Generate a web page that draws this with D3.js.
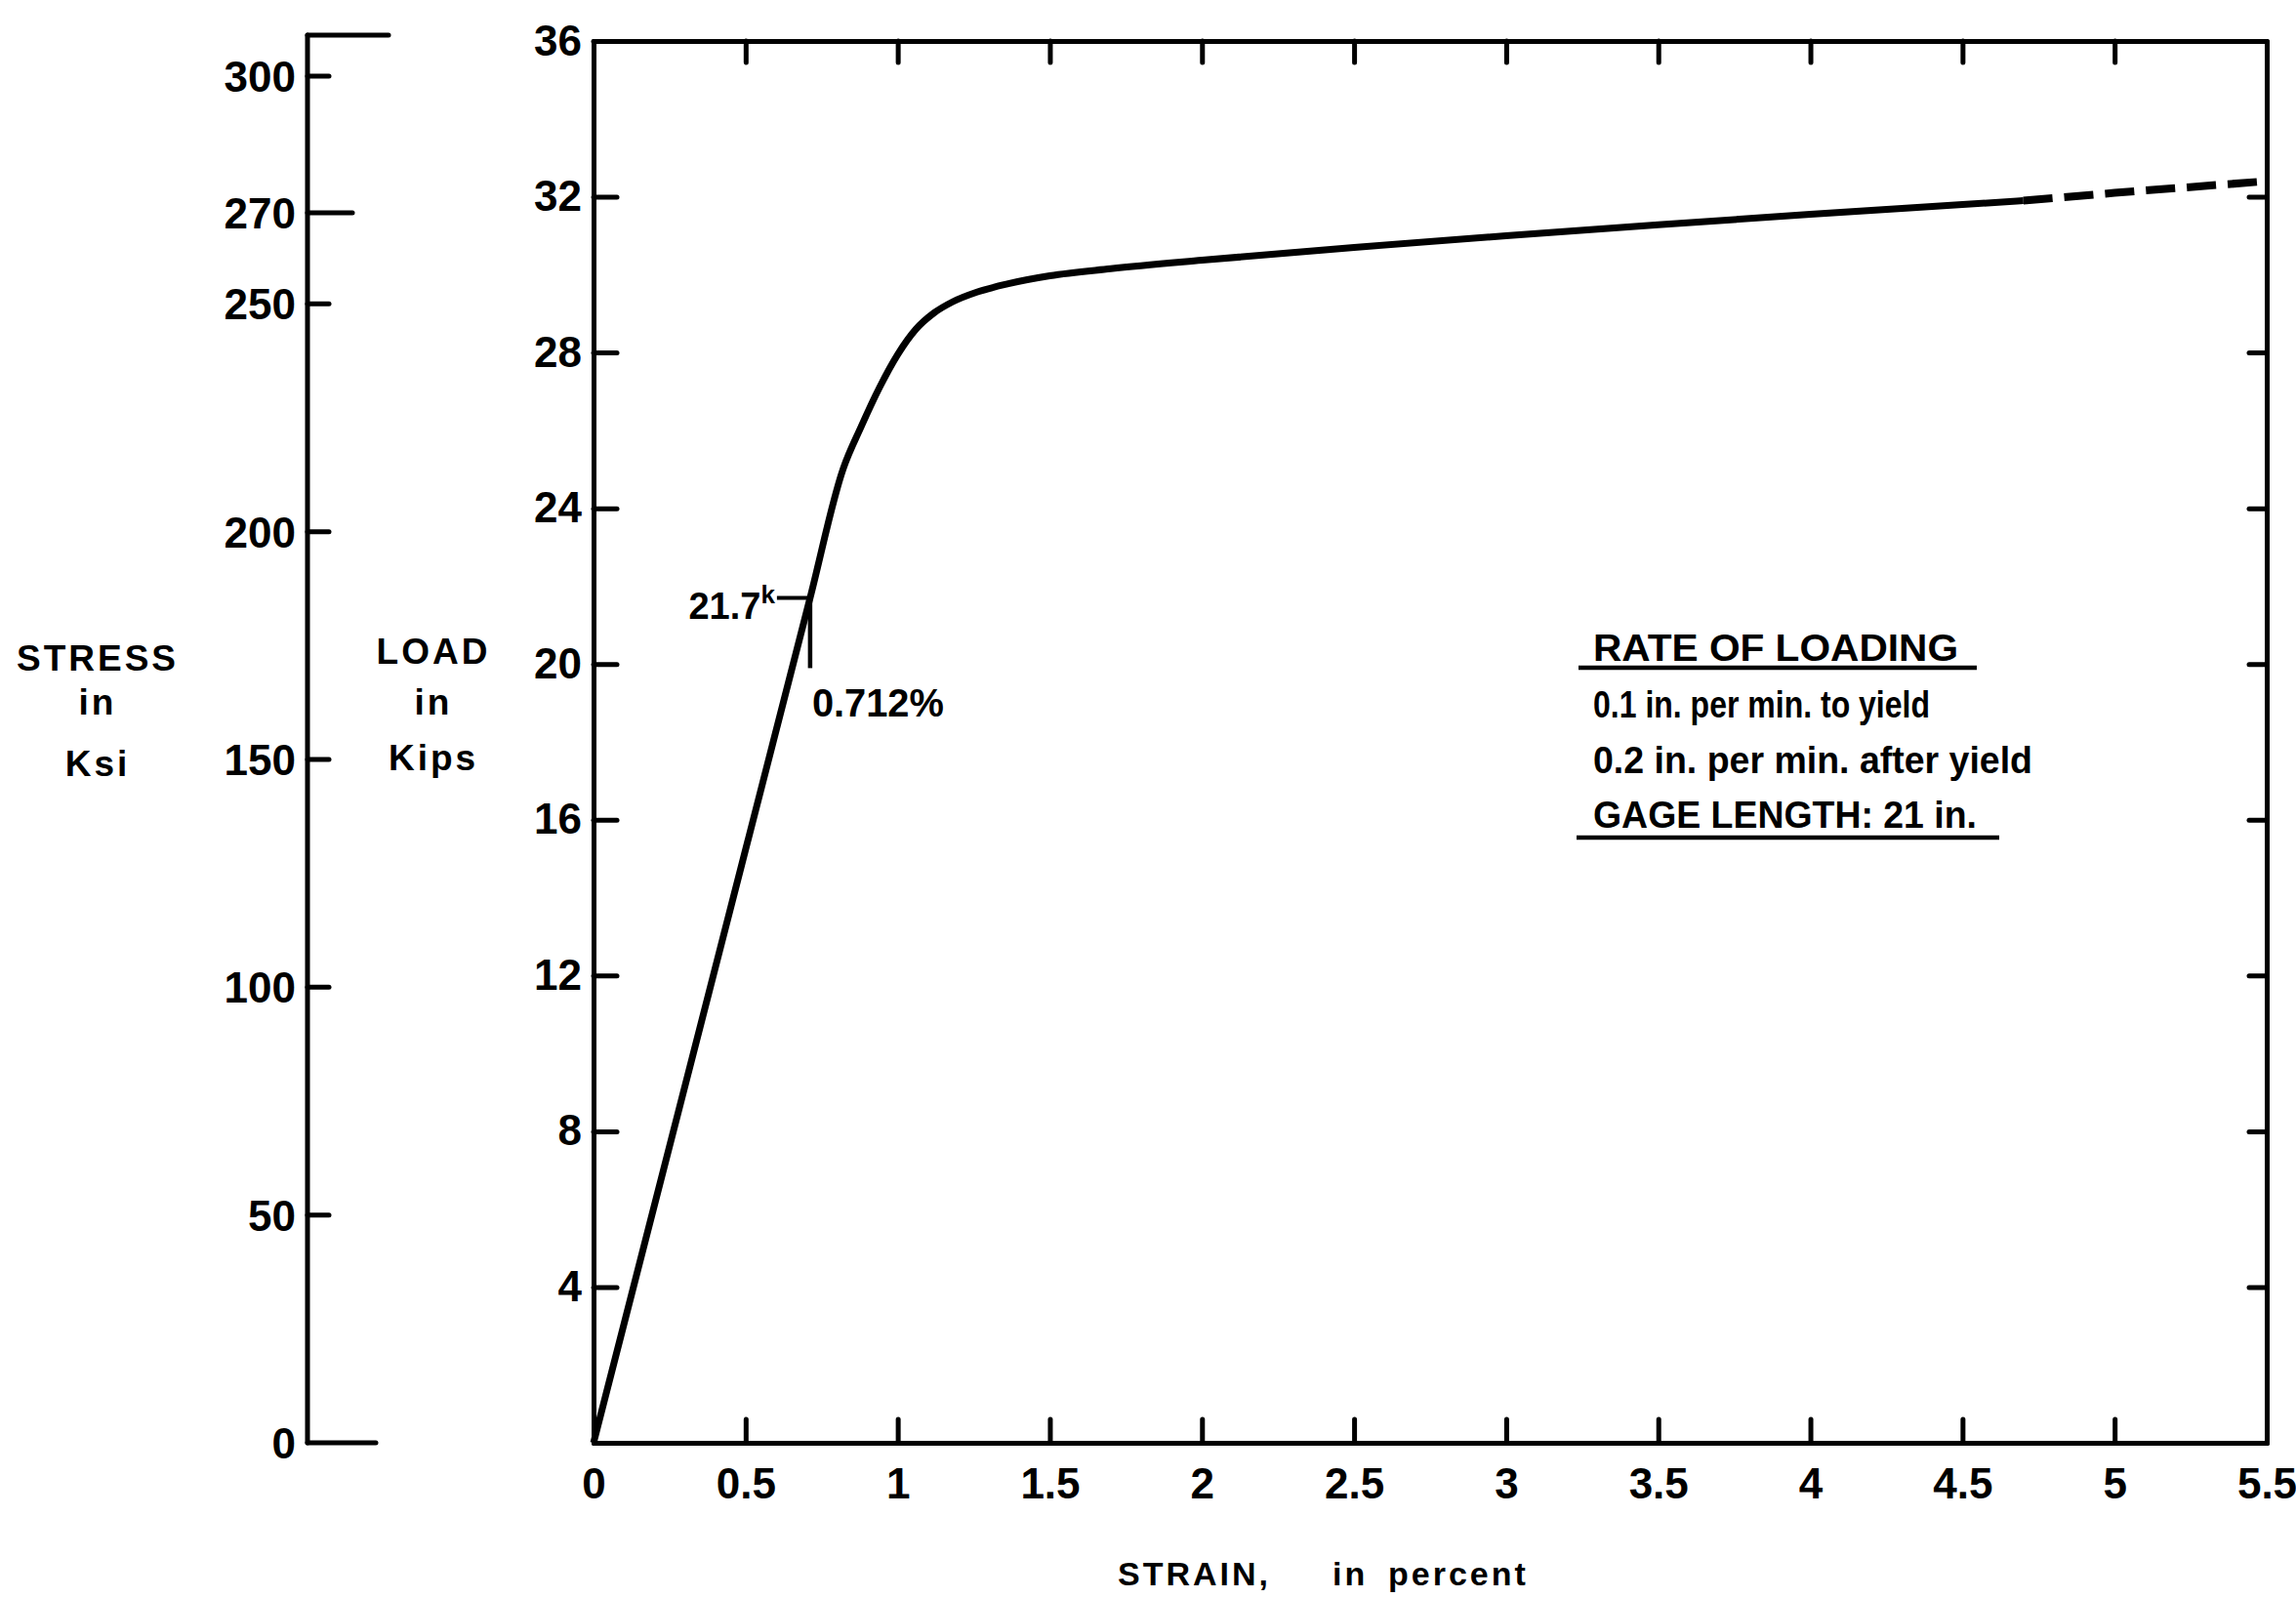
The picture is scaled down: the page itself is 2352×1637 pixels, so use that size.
<!DOCTYPE html>
<html>
<head>
<meta charset="utf-8">
<script src="https://cdn.jsdelivr.net/npm/d3@7"></script>
<style>
    body { margin: 0; background: #fff; }
    svg text { font-family: "Liberation Sans", Arial, sans-serif; font-weight: bold; fill: #000; }
    .axis path, .axis line { stroke: #000; stroke-width: 5; stroke-linecap: round; }
    .axis text { font-size: 44px; font-family: "Liberation Sans", Arial, sans-serif; font-weight: bold; }
</style>
</head>
<body>
<div id="chart"></div>
<script>
// load-strain curve
const strain = [0, 0.712, 0.82, 0.88, 0.94, 1.00, 1.06, 1.12, 1.18, 1.26, 1.36, 1.5, 1.7, 2.0, 2.5, 3.0, 3.5, 4.0, 4.5, 4.7]
const load = [0, 21.7, 25.0, 26.1, 27.1, 27.95, 28.6, 29.02, 29.3, 29.55, 29.76, 29.97, 30.15, 30.37, 30.7, 31.0, 31.28, 31.55, 31.8, 31.9]
// dashed extension at the end
const strainDashed = [4.7, 5.0, 5.5]
const loadDashed = [31.9, 32.1, 32.4]

const strainTicks = [0, 0.5, 1, 1.5, 2, 2.5, 3, 3.5, 4, 4.5, 5, 5.5]
const strainLabels = ["0", "0.5", "1", "1.5", "2", "2.5", "3", "3.5", "4", "4.5", "5", "5.5"]
const loadTicks = [4, 8, 12, 16, 20, 24, 28, 32, 36]
const stressTicks = [50, 100, 150, 200, 250, 270, 300]
const stressCap = 309

const yieldStrain = 0.712
const yieldLoad = 21.7
const notes = ["RATE OF LOADING", "0.1 in. per min. to yield", "0.2 in. per min. after yield", "GAGE LENGTH: 21 in."]

const w = 2352
const h = 1637

const pLeft = 608, pRight = 2322, pTop = 42, pBottom = 1478
const stressX = 315

const xScale = d3.scaleLinear().domain([0, 5.5]).range([pLeft, pRight])
const yScale = d3.scaleLinear().domain([0, 36]).range([pBottom, pTop])
const sScale = d3.scaleLinear().domain([0, 300]).range([pBottom, 78])

const svg = d3.select("#chart")
    .append("svg")
    .attr("width", w)
    .attr("height", h)

svg.append("rect").attr("width", w).attr("height", h).attr("fill", "#fff")

// axes of the main frame
svg.append("g")
    .attr("class", "axis")
    .attr("transform", "translate(0," + pBottom + ")")
    .call(d3.axisBottom(xScale).tickValues(strainTicks).tickSize(-24).tickSizeOuter(0)
        .tickPadding(26).tickFormat((d, i) => strainLabels[i]))

svg.append("g")
    .attr("class", "axis")
    .attr("transform", "translate(0," + pTop + ")")
    .call(d3.axisTop(xScale).tickValues(strainTicks.slice(1, -1)).tickSize(-22).tickSizeOuter(0).tickFormat(""))

svg.append("g")
    .attr("class", "axis")
    .attr("transform", "translate(" + pLeft + ",0)")
    .call(d3.axisLeft(yScale).tickValues(loadTicks).tickSize(-24).tickSizeOuter(0).tickPadding(12))

svg.append("g")
    .attr("class", "axis")
    .attr("transform", "translate(" + pRight + ",0)")
    .call(d3.axisRight(yScale).tickValues(loadTicks.slice(0, -1)).tickSize(-18).tickSizeOuter(0).tickFormat(""))

// stress axis on the far left
const sAxis = svg.append("g").attr("class", "axis")
sAxis.append("line")
    .attr("x1", stressX).attr("x2", stressX)
    .attr("y1", sScale(0)).attr("y2", sScale(stressCap))
sAxis.append("line")
    .attr("x1", stressX).attr("x2", stressX + 83)
    .attr("y1", sScale(stressCap)).attr("y2", sScale(stressCap))
sAxis.append("line")
    .attr("x1", stressX).attr("x2", stressX + 70)
    .attr("y1", sScale(0)).attr("y2", sScale(0))
sAxis.selectAll(".stick")
    .data(stressTicks)
    .enter()
    .append("line")
    .attr("x1", stressX)
    .attr("x2", d => stressX + (d === 270 ? 46 : 22))
    .attr("y1", d => sScale(d))
    .attr("y2", d => sScale(d))
sAxis.selectAll(".slabel")
    .data([0].concat(stressTicks))
    .enter()
    .append("text")
    .attr("x", stressX - 12)
    .attr("y", d => sScale(d))
    .attr("dy", "0.36em")
    .attr("text-anchor", "end")
    .text(d => d)

// curve
const line = d3.line()
    .x(d => xScale(d[0]))
    .y(d => yScale(d[1]))
    .curve(d3.curveMonotoneX)

svg.append("path")
    .datum(strain.map((s, i) => [s, load[i]]))
    .attr("d", line)
    .attr("fill", "none")
    .attr("stroke", "#000")
    .attr("stroke-width", 7)
    .attr("stroke-linejoin", "round")

svg.append("path")
    .datum(strainDashed.map((s, i) => [s, loadDashed[i]]))
    .attr("d", d3.line().x(d => xScale(d[0])).y(d => yScale(d[1])))
    .attr("fill", "none")
    .attr("stroke", "#000")
    .attr("stroke-width", 8)
    .attr("stroke-dasharray", "30,12")

// yield annotation
const px = xScale(yieldStrain), py = yScale(yieldLoad)
svg.append("line")
    .attr("x1", px - 34).attr("x2", px).attr("y1", py).attr("y2", py)
    .attr("stroke", "#000").attr("stroke-width", 4)
svg.append("line")
    .attr("x1", px).attr("x2", px).attr("y1", py).attr("y2", py + 72)
    .attr("stroke", "#000").attr("stroke-width", 4.5)
const lbl = svg.append("text")
    .attr("x", px - 36).attr("y", py + 22)
    .attr("text-anchor", "end")
    .style("font-size", "38px")
lbl.append("tspan").text(yieldLoad)
lbl.append("tspan").attr("dy", -16).style("font-size", "26px").text("k")
svg.append("text")
    .attr("x", px + 2).attr("y", py + 122)
    .attr("textLength", 135)
    .attr("lengthAdjust", "spacingAndGlyphs")
    .style("font-size", "40px")
    .text(yieldStrain + "%")

// notes box
const noteY = [677, 735, 792, 848]
const noteW = [374, 345, 450, 393]
notes.forEach((t, i) => {
    svg.append("text")
        .attr("x", 1632).attr("y", noteY[i])
        .attr("textLength", noteW[i])
        .attr("lengthAdjust", "spacingAndGlyphs")
        .style("font-size", "38px")
        .text(t)
})
svg.append("line").attr("x1", 1617).attr("x2", 2025).attr("y1", 684).attr("y2", 684)
    .attr("stroke", "#000").attr("stroke-width", 4.5)
svg.append("line").attr("x1", 1615).attr("x2", 2048).attr("y1", 858).attr("y2", 858)
    .attr("stroke", "#000").attr("stroke-width", 4.5)

// axis titles
const titleBlock = (cx, lines, ys) => {
    lines.forEach((t, i) => {
        svg.append("text")
            .attr("x", cx).attr("y", ys[i])
            .attr("text-anchor", "middle")
            .style("font-size", "37px")
            .style("letter-spacing", "3px")
            .text(t)
    })
}
titleBlock(100, ["STRESS", "in", "Ksi"], [687, 732, 795])
titleBlock(444, ["LOAD", "in", "Kips"], [680, 732, 789])

const xt = svg.append("text").attr("y", 1624).style("font-size", "34px").style("letter-spacing", "3px")
xt.append("tspan").attr("x", 1145).text("STRAIN,")
xt.append("tspan").attr("x", 1365).text("in")
xt.append("tspan").attr("x", 1422).text("percent")
</script>
</body>
</html>
